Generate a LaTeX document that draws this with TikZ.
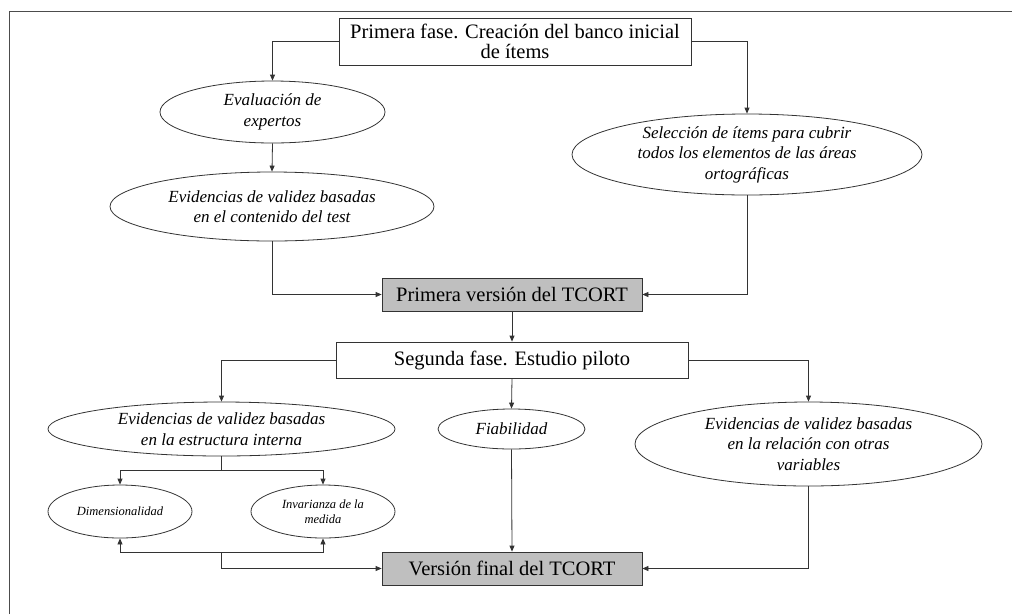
\documentclass[tikz,border=0pt]{standalone}
\usepackage{fontspec}
\setmainfont{Liberation Serif}
\usetikzlibrary{shapes.geometric,arrows.meta}
\begin{document}
\begin{tikzpicture}[x=1pt,y=-1pt,
  line width=0.8pt,
  conn/.style={draw=black!80,-{Triangle[length=6pt,width=5pt]}},
  plain/.style={draw=black!80},
  boxnode/.style={draw=black!80,fill=white,rectangle,inner sep=0pt,font=\fontsize{20.5}{19.5}\selectfont,align=center},
  graybox/.style={boxnode,fill=black!25},
  ell/.style={draw=black!80,ellipse,inner sep=0pt,font=\fontsize{17}{20.5}\selectfont\itshape,align=center},
  smallell/.style={ell,font=\fontsize{12.5}{15}\selectfont\itshape}
]
\useasboundingbox (0,0) rectangle (1012,614);
\draw[black!70] (9,614) -- (9,11) -- (1012,11);

\node[boxnode,minimum width=352pt,minimum height=47pt] (top) at (515,41.5) {Primera fase. Creación del banco inicial\\de ítems};
\node[ell,minimum width=225pt,minimum height=62pt] (eva) at (272.5,112) {Evaluación de\\expertos};
\node[ell,minimum width=324pt,minimum height=69pt] (cont) at (272,206.5) {Evidencias de validez basadas\\en el contenido del test};
\node[ell,minimum width=350pt,minimum height=81pt] (sel) at (747,154.5) {Selección de ítems para cubrir\\todos los elementos de las áreas\\ortográficas};
\node[graybox,minimum width=260pt,minimum height=33pt] (pv) at (512,294.5) {Primera versión del TCORT};
\node[boxnode,minimum width=352pt,minimum height=36pt] (seg) at (512,360) {Segunda fase. Estudio piloto};
\node[ell,minimum width=347pt,minimum height=54pt] (int) at (221.5,429) {Evidencias de validez basadas\\en la estructura interna};
\node[ell,minimum width=147pt,minimum height=40pt] (fia) at (511.5,429) {Fiabilidad};
\node[ell,minimum width=347pt,minimum height=84pt] (rel) at (808.5,444) {Evidencias de validez basadas\\en la relación con otras\\variables};
\node[smallell,minimum width=144pt,minimum height=53pt] (dim) at (120,511.5) {Dimensionalidad};
\node[smallell,minimum width=144pt,minimum height=53pt] (inv) at (323,511.5) {Invarianza de la\\medida};
\node[graybox,minimum width=260pt,minimum height=33pt] (vf) at (512,568.5) {Versión final del TCORT};

\coordinate (j1) at (221.5,470);
\coordinate (j2) at (221.5,552);

\draw[conn] (top.west) -| (eva.north);
\draw[conn] (eva.south) -- (cont.north);
\draw[conn] (cont.south) |- (pv.west);
\draw[conn] (top.east) -| (sel.north);
\draw[conn] (sel.south) |- (pv.east);
\draw[conn] (pv.south) -- (seg.north);
\draw[conn] (seg.west) -| (int.north);
\draw[conn] (seg.south) -- (fia.north);
\draw[conn] (seg.east) -| (rel.north);
\draw[plain] (int.south) -- (j1);
\draw[conn] (j1) -| (dim.north);
\draw[conn] (j1) -| (inv.north);
\draw[conn] (j2) -| (dim.south);
\draw[conn] (j2) -| (inv.south);
\draw[conn] (j2) |- (vf.west);
\draw[conn] (fia.south) -- (vf.north);
\draw[conn] (rel.south) |- (vf.east);
\end{tikzpicture}
\end{document}
